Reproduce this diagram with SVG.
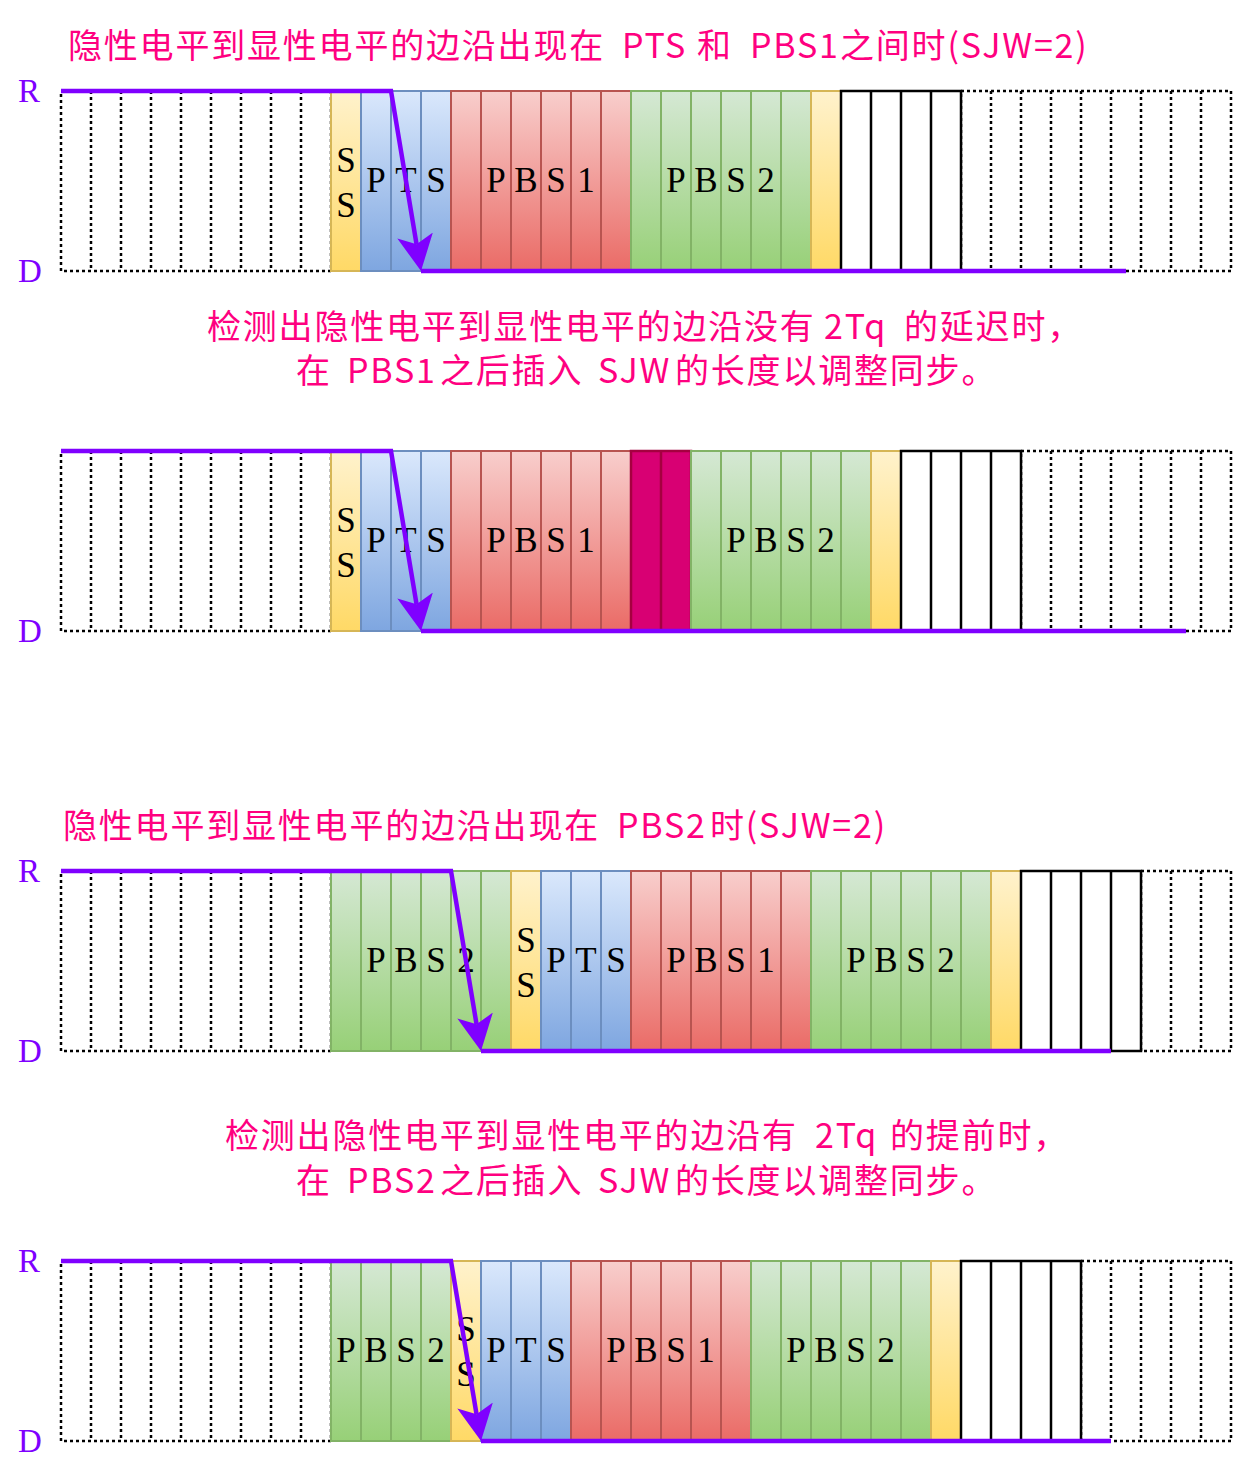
<svg xmlns="http://www.w3.org/2000/svg" width="1233" height="1476" viewBox="0 0 1233 1476">
<defs>
<linearGradient id="gY" x1="0" y1="0" x2="0" y2="1"><stop offset="0" stop-color="#fff2cc"/><stop offset="1" stop-color="#ffd966"/></linearGradient>
<linearGradient id="gB" x1="0" y1="0" x2="0" y2="1"><stop offset="0" stop-color="#dae8fc"/><stop offset="1" stop-color="#7ea6e0"/></linearGradient>
<linearGradient id="gR" x1="0" y1="0" x2="0" y2="1"><stop offset="0" stop-color="#f8cecc"/><stop offset="1" stop-color="#ea6b66"/></linearGradient>
<linearGradient id="gG" x1="0" y1="0" x2="0" y2="1"><stop offset="0" stop-color="#d5e8d4"/><stop offset="1" stop-color="#97d077"/></linearGradient>
<marker id="ah" markerUnits="userSpaceOnUse" markerWidth="36" markerHeight="36" viewBox="0 0 36 36" refX="9" refY="18" orient="auto"><path d="M0,0 L36,18 L0,36 L9,18 Z" fill="#7f00ff"/></marker>
<style>
.dot{fill:#fff;stroke:#000;stroke-width:2.5;stroke-dasharray:3 3}
.dotl{fill:none;stroke:#000;stroke-width:2.5;stroke-dasharray:3 3}
.blk{fill:#fff;stroke:#000;stroke-width:2.5}
.blkl{fill:none;stroke:#000;stroke-width:2.5}
.ss{fill:url(#gY);stroke:#d6b656;stroke-width:2}
.pts{fill:url(#gB);stroke:#6c8ebf;stroke-width:2}
.ptsl{fill:none;stroke:#6c8ebf;stroke-width:2}
.pb1{fill:url(#gR);stroke:#b85450;stroke-width:2}
.pb1l{fill:none;stroke:#b85450;stroke-width:2}
.pb2{fill:url(#gG);stroke:#82b366;stroke-width:2}
.pb2l{fill:none;stroke:#82b366;stroke-width:2}
.sjw{fill:#d80073;stroke:#a50040;stroke-width:2.5}
.sjwl{fill:none;stroke:#a50040;stroke-width:2.5}
.lbl{font-family:"Liberation Serif",serif;font-size:35px;fill:#000;text-anchor:middle}
.rd{font-family:"Liberation Serif",serif;font-size:33px;fill:#7f00ff}
.cap{font-family:"Noto Sans CJK SC",sans-serif;font-size:34px;letter-spacing:1.8px;fill:#ff0080}
.sig{fill:none;stroke:#7f00ff;stroke-width:4.5}
</style>
</defs>
<rect width="1233" height="1476" fill="#fff"/>

<g id="titles">
<text class="cap" y="58"><tspan x="68">隐性电平到显性电平的边沿出现在</tspan><tspan x="622">PTS</tspan><tspan x="697">和</tspan><tspan x="750">PBS1</tspan><tspan x="840">之间时(SJW=2)</tspan></text>
<text class="cap" y="339"><tspan x="207">检测出隐性电平到显性电平的边沿没有</tspan><tspan x="824">2Tq</tspan><tspan x="904">的延迟时，</tspan></text>
<text class="cap" y="383"><tspan x="296">在</tspan><tspan x="347">PBS1</tspan><tspan x="440">之后插入</tspan><tspan x="598">SJW</tspan><tspan x="675">的长度以调整同步。</tspan></text>
<text class="cap" y="838"><tspan x="63">隐性电平到显性电平的边沿出现在</tspan><tspan x="617">PBS2</tspan><tspan x="710">时(SJW=2)</tspan></text>
<text class="cap" y="1148"><tspan x="225">检测出隐性电平到显性电平的边沿有</tspan><tspan x="815">2Tq</tspan><tspan x="890">的提前时，</tspan></text>
<text class="cap" y="1193"><tspan x="296">在</tspan><tspan x="347">PBS2</tspan><tspan x="440">之后插入</tspan><tspan x="598">SJW</tspan><tspan x="675">的长度以调整同步。</tspan></text>
</g>

<g id="levels">
<text class="rd" x="18" y="102">R</text>
<text class="rd" x="18" y="282">D</text>
<text class="rd" x="18" y="642">D</text>
<text class="rd" x="18" y="882">R</text>
<text class="rd" x="18" y="1062">D</text>
<text class="rd" x="18" y="1272">R</text>
<text class="rd" x="18" y="1452">D</text>
</g>

<!-- Row 1 -->
<g id="row1">
<g id="r1-idle1"><rect class="dot" x="61" y="91" width="270" height="180"/><path class="dotl" d="M91 91v180M121 91v180M151 91v180M181 91v180M211 91v180M241 91v180M271 91v180M301 91v180"/></g>
<g id="r1-idle2"><rect class="dot" x="961" y="91" width="270" height="180"/><path class="dotl" d="M991 91v180M1021 91v180M1051 91v180M1081 91v180M1111 91v180M1141 91v180M1171 91v180M1201 91v180"/></g>
<g id="r1-ss"><rect class="ss" x="331" y="91" width="30" height="180"/><text class="lbl" x="346" y="172">S</text><text class="lbl" x="346" y="217">S</text></g>
<g id="r1-pts"><rect class="pts" x="361" y="91" width="90" height="180"/><path class="ptsl" d="M391 91v180M421 91v180"/><text class="lbl" x="376" y="192">P</text><text class="lbl" x="406" y="192">T</text><text class="lbl" x="436" y="192">S</text></g>
<g id="r1-pbs1"><rect class="pb1" x="451" y="91" width="180" height="180"/><path class="pb1l" d="M481 91v180M511 91v180M541 91v180M571 91v180M601 91v180"/><text class="lbl" x="496" y="192">P</text><text class="lbl" x="526" y="192">B</text><text class="lbl" x="556" y="192">S</text><text class="lbl" x="586" y="192">1</text></g>
<g id="r1-pbs2"><rect class="pb2" x="631" y="91" width="180" height="180"/><path class="pb2l" d="M661 91v180M691 91v180M721 91v180M751 91v180M781 91v180"/><text class="lbl" x="676" y="192">P</text><text class="lbl" x="706" y="192">B</text><text class="lbl" x="736" y="192">S</text><text class="lbl" x="766" y="192">2</text></g>
<g id="r1-ss2"><rect class="ss" x="811" y="91" width="30" height="180"/></g>
<g id="r1-bits"><rect class="blk" x="841" y="91" width="120" height="180"/><path class="blkl" d="M871 91v180M901 91v180M931 91v180"/></g>
</g>

<!-- Row 2 -->
<g id="row2">
<g id="r2-idle1"><rect class="dot" x="61" y="451" width="270" height="180"/><path class="dotl" d="M91 451v180M121 451v180M151 451v180M181 451v180M211 451v180M241 451v180M271 451v180M301 451v180"/></g>
<g id="r2-idle2"><rect class="dot" x="1021" y="451" width="210" height="180"/><path class="dotl" d="M1051 451v180M1081 451v180M1111 451v180M1141 451v180M1171 451v180M1201 451v180"/></g>
<g id="r2-ss"><rect class="ss" x="331" y="451" width="30" height="180"/><text class="lbl" x="346" y="532">S</text><text class="lbl" x="346" y="577">S</text></g>
<g id="r2-pts"><rect class="pts" x="361" y="451" width="90" height="180"/><path class="ptsl" d="M391 451v180M421 451v180"/><text class="lbl" x="376" y="552">P</text><text class="lbl" x="406" y="552">T</text><text class="lbl" x="436" y="552">S</text></g>
<g id="r2-pbs1"><rect class="pb1" x="451" y="451" width="180" height="180"/><path class="pb1l" d="M481 451v180M511 451v180M541 451v180M571 451v180M601 451v180"/><text class="lbl" x="496" y="552">P</text><text class="lbl" x="526" y="552">B</text><text class="lbl" x="556" y="552">S</text><text class="lbl" x="586" y="552">1</text></g>
<g id="r2-sjw"><rect class="sjw" x="631" y="451" width="60" height="180"/><path class="sjwl" d="M661 451v180"/></g>
<g id="r2-pbs2"><rect class="pb2" x="691" y="451" width="180" height="180"/><path class="pb2l" d="M721 451v180M751 451v180M781 451v180M811 451v180M841 451v180"/><text class="lbl" x="736" y="552">P</text><text class="lbl" x="766" y="552">B</text><text class="lbl" x="796" y="552">S</text><text class="lbl" x="826" y="552">2</text></g>
<g id="r2-ss2"><rect class="ss" x="871" y="451" width="30" height="180"/></g>
<g id="r2-bits"><rect class="blk" x="901" y="451" width="120" height="180"/><path class="blkl" d="M931 451v180M961 451v180M991 451v180"/></g>
</g>

<!-- Row 3 -->
<g id="row3">
<g id="r3-idle1"><rect class="dot" x="61" y="871" width="270" height="180"/><path class="dotl" d="M91 871v180M121 871v180M151 871v180M181 871v180M211 871v180M241 871v180M271 871v180M301 871v180"/></g>
<g id="r3-idle2"><rect class="dot" x="1141" y="871" width="90" height="180"/><path class="dotl" d="M1171 871v180M1201 871v180"/></g>
<g id="r3-pbs2a"><rect class="pb2" x="331" y="871" width="180" height="180"/><path class="pb2l" d="M361 871v180M391 871v180M421 871v180M451 871v180M481 871v180"/><text class="lbl" x="376" y="972">P</text><text class="lbl" x="406" y="972">B</text><text class="lbl" x="436" y="972">S</text><text class="lbl" x="466" y="972">2</text></g>
<g id="r3-ss"><rect class="ss" x="511" y="871" width="30" height="180"/><text class="lbl" x="526" y="952">S</text><text class="lbl" x="526" y="997">S</text></g>
<g id="r3-pts"><rect class="pts" x="541" y="871" width="90" height="180"/><path class="ptsl" d="M571 871v180M601 871v180"/><text class="lbl" x="556" y="972">P</text><text class="lbl" x="586" y="972">T</text><text class="lbl" x="616" y="972">S</text></g>
<g id="r3-pbs1"><rect class="pb1" x="631" y="871" width="180" height="180"/><path class="pb1l" d="M661 871v180M691 871v180M721 871v180M751 871v180M781 871v180"/><text class="lbl" x="676" y="972">P</text><text class="lbl" x="706" y="972">B</text><text class="lbl" x="736" y="972">S</text><text class="lbl" x="766" y="972">1</text></g>
<g id="r3-pbs2b"><rect class="pb2" x="811" y="871" width="180" height="180"/><path class="pb2l" d="M841 871v180M871 871v180M901 871v180M931 871v180M961 871v180"/><text class="lbl" x="856" y="972">P</text><text class="lbl" x="886" y="972">B</text><text class="lbl" x="916" y="972">S</text><text class="lbl" x="946" y="972">2</text></g>
<g id="r3-ss2"><rect class="ss" x="991" y="871" width="30" height="180"/></g>
<g id="r3-bits"><rect class="blk" x="1021" y="871" width="120" height="180"/><path class="blkl" d="M1051 871v180M1081 871v180M1111 871v180"/></g>
</g>

<!-- Row 4 -->
<g id="row4">
<g id="r4-idle1"><rect class="dot" x="61" y="1261" width="270" height="180"/><path class="dotl" d="M91 1261v180M121 1261v180M151 1261v180M181 1261v180M211 1261v180M241 1261v180M271 1261v180M301 1261v180"/></g>
<g id="r4-idle2"><rect class="dot" x="1081" y="1261" width="150" height="180"/><path class="dotl" d="M1111 1261v180M1141 1261v180M1171 1261v180M1201 1261v180"/></g>
<g id="r4-pbs2a"><rect class="pb2" x="331" y="1261" width="120" height="180"/><path class="pb2l" d="M361 1261v180M391 1261v180M421 1261v180"/><text class="lbl" x="346" y="1362">P</text><text class="lbl" x="376" y="1362">B</text><text class="lbl" x="406" y="1362">S</text><text class="lbl" x="436" y="1362">2</text></g>
<g id="r4-ss"><rect class="ss" x="451" y="1261" width="30" height="180"/><text class="lbl" x="466" y="1341">S</text><text class="lbl" x="466" y="1386">S</text></g>
<g id="r4-pts"><rect class="pts" x="481" y="1261" width="90" height="180"/><path class="ptsl" d="M511 1261v180M541 1261v180"/><text class="lbl" x="496" y="1362">P</text><text class="lbl" x="526" y="1362">T</text><text class="lbl" x="556" y="1362">S</text></g>
<g id="r4-pbs1"><rect class="pb1" x="571" y="1261" width="180" height="180"/><path class="pb1l" d="M601 1261v180M631 1261v180M661 1261v180M691 1261v180M721 1261v180"/><text class="lbl" x="616" y="1362">P</text><text class="lbl" x="646" y="1362">B</text><text class="lbl" x="676" y="1362">S</text><text class="lbl" x="706" y="1362">1</text></g>
<g id="r4-pbs2b"><rect class="pb2" x="751" y="1261" width="180" height="180"/><path class="pb2l" d="M781 1261v180M811 1261v180M841 1261v180M871 1261v180M901 1261v180"/><text class="lbl" x="796" y="1362">P</text><text class="lbl" x="826" y="1362">B</text><text class="lbl" x="856" y="1362">S</text><text class="lbl" x="886" y="1362">2</text></g>
<g id="r4-ss2"><rect class="ss" x="931" y="1261" width="30" height="180"/></g>
<g id="r4-bits"><rect class="blk" x="961" y="1261" width="120" height="180"/><path class="blkl" d="M991 1261v180M1021 1261v180M1051 1261v180"/></g>
</g>

<g id="connectors">
<path class="sig" d="M61 91H391L416.56 244.37" marker-end="url(#ah)"/>
<path class="sig" d="M421 271H1126"/>
<path class="sig" d="M61 451H391L416.56 604.37" marker-end="url(#ah)"/>
<path class="sig" d="M421 631H1186"/>
<path class="sig" d="M61 871H451L476.56 1024.37" marker-end="url(#ah)"/>
<path class="sig" d="M481 1051H1111"/>
<path class="sig" d="M61 1261H451L476.56 1414.37" marker-end="url(#ah)"/>
<path class="sig" d="M481 1441H1111"/>
</g>
</svg>
